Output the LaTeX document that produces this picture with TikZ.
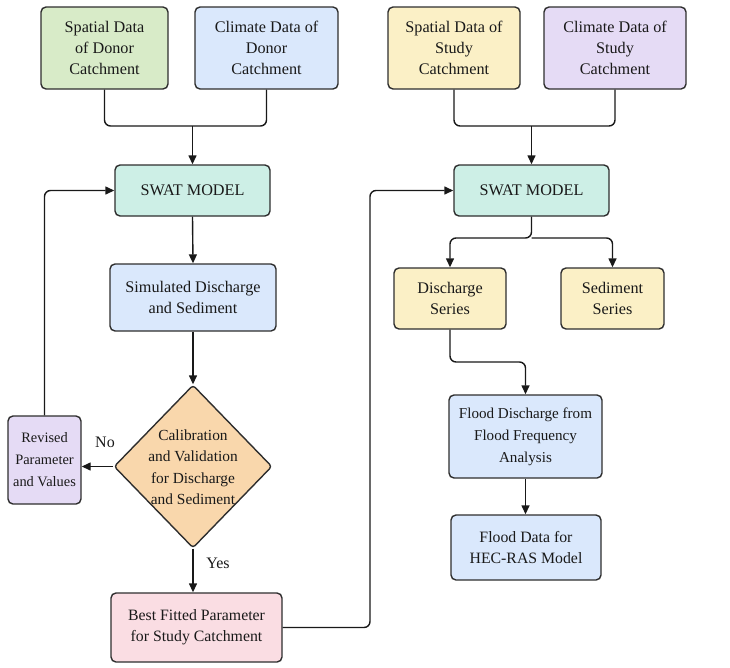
\documentclass[tikz,border=0pt]{standalone}
\usepackage{fontspec}
\setmainfont{Liberation Serif}
\usetikzlibrary{shapes.geometric,arrows.meta}
\definecolor{linec}{HTML}{2E2E2E}
\definecolor{cgreen}{HTML}{D8EBC8}
\definecolor{cblue}{HTML}{DAE8FC}
\definecolor{cyellow}{HTML}{FBF0C6}
\definecolor{cpurple}{HTML}{E5DBF5}
\definecolor{cteal}{HTML}{CDEFE6}
\definecolor{corange}{HTML}{F9D7AC}
\definecolor{cpink}{HTML}{FADDE3}
\begin{document}
\begin{tikzpicture}[x=1pt,y=-1pt,
  box/.style={draw=linec, line width=1.4pt, rounded corners=5pt, align=center, inner sep=2pt,
    font=\fontsize{16.2}{21}\selectfont, text=black!90},
  lbl/.style={font=\fontsize{16}{21}\selectfont, align=center, inner sep=0pt, text=black!90},
  conn/.style={line width=1.4pt, draw=black!90, rounded corners=6pt},
  arr/.style={conn, -{Triangle[length=9pt,width=8pt]}}]
\useasboundingbox (0,0) rectangle (730,667);
% top boxes
\node[box, fill=cgreen, minimum width=127pt, minimum height=82pt] (A) at (104.5,48) {Spatial Data\\of Donor\\Catchment};
\node[box, fill=cblue, minimum width=143pt, minimum height=82pt] (B) at (266.5,48) {Climate Data of\\Donor\\Catchment};
\node[box, fill=cyellow, minimum width=132pt, minimum height=82pt] (C) at (454,48) {Spatial Data of\\Study\\Catchment};
\node[box, fill=cpurple, minimum width=142pt, minimum height=82pt] (D) at (615,48) {Climate Data of\\Study\\Catchment};
% SWAT models
\node[box, fill=cteal, minimum width=155pt, minimum height=51pt] (sw1) at (192.5,190.5) {SWAT MODEL};
\node[box, fill=cteal, minimum width=155pt, minimum height=51pt] (sw2) at (531.5,190.5) {SWAT MODEL};
% left column
\node[box, fill=cblue, minimum width=166pt, minimum height=67pt] (sim) at (193,297.5) {Simulated Discharge\\and Sediment};
\node[draw=linec, line width=1.4pt, fill=corange, shape=diamond, minimum width=158pt, minimum height=163pt, inner sep=0pt, rounded corners=3pt] (dia) at (193,466.5) {};
\node[lbl, font=\fontsize{15.4}{21.5}\selectfont] (diatext) at (193,467) {Calibration\\and Validation\\for Discharge\\and Sediment};
\node[box, fill=cpurple, minimum width=73pt, minimum height=88pt, inner sep=1pt, font=\fontsize{14.4}{22}\selectfont] (rev) at (44.5,460) {Revised\\Parameter\\and Values};
\node[box, fill=cpink, minimum width=171pt, minimum height=69pt, font=\fontsize{15.8}{21}\selectfont] (best) at (196.5,627.5) {Best Fitted Parameter\\for Study Catchment};
\node[lbl] (no) at (105,442) {No};
\node[lbl] (yes) at (218,563) {Yes};
% right column
\node[box, fill=cyellow, minimum width=112pt, minimum height=61pt] (ds) at (450,298.5) {Discharge\\Series};
\node[box, fill=cyellow, minimum width=103pt, minimum height=61pt] (ss) at (612.5,298.5) {Sediment\\Series};
\node[box, fill=cblue, minimum width=153pt, minimum height=83pt, font=\fontsize{15.1}{22}\selectfont] (fd) at (525.5,436.5) {Flood Discharge from\\Flood Frequency\\Analysis};
\node[box, fill=cblue, minimum width=150pt, minimum height=65pt, font=\fontsize{15.8}{21.5}\selectfont] (fdat) at (526,547.5) {Flood Data for\\HEC-RAS Model};
% coordinates
\coordinate (m1) at (192.5,126);
\coordinate (m2) at (531.5,126);
\coordinate (m3) at (531.5,238);
\coordinate (c1) at (370,627.5);
\coordinate (c2) at (525.5,362);
% connectors
\draw[conn] (A.south) |- (m1) -| (B.south);
\draw[arr] (m1) -- (sw1.north);
\draw[conn] (C.south) |- (m2) -| (D.south);
\draw[arr] (m2) -- (sw2.north);
\draw[arr] (sw1.south) -- (sim.north);
\draw[arr] (sim.south) -- (dia.north);
\draw[arr] (dia.west) -- (dia.west -| rev.east);
\draw[arr] (rev.north) |- (sw1.west);
\draw[arr] (dia.south) -- (dia.south |- best.north);
\draw[arr] (best.east) -- (c1) |- (sw2.west);
\draw[arr] (sw2.south) -- (m3) -| (ds.north);
\draw[arr] (m3) -| (ss.north);
\draw[arr] (ds.south) |- (c2) -- (fd.north);
\draw[arr] (fd.south) -- (fd.south |- fdat.north);
\end{tikzpicture}
\end{document}
